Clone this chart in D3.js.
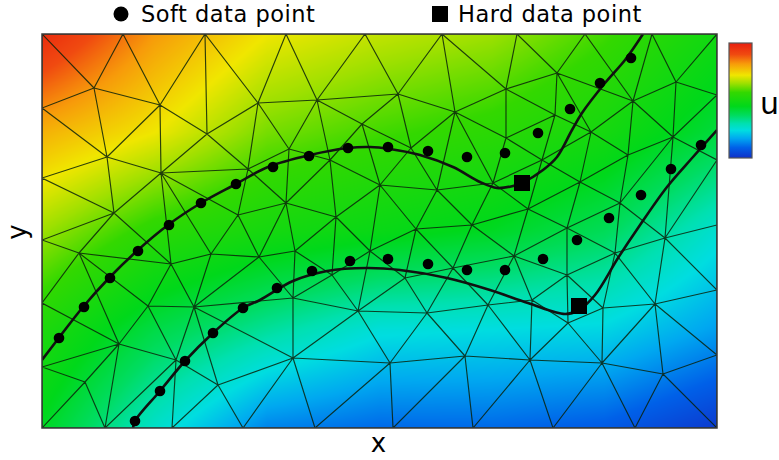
<!DOCTYPE html>
<html><head><meta charset="utf-8">
<script src="https://cdn.jsdelivr.net/npm/d3@7"></script>
<style>body{margin:0;background:#fff} svg{display:block}</style>
</head><body>
<svg id="chart" width="779" height="460"></svg>
<script>
// ---- data (domain units: x 0..675, y 0..394) ----
const meshBoundaryTop = [0,81,163,244,323,400,475,543,610,675];
const meshBoundaryBottom = [0,63,130,201,273,351,431,511,593,675];
const meshBoundaryLeft = [320,250,188,125,61];
const meshBoundaryRight = [333,268,203,138,73];
const meshInterior = [
 [52,340],[118,323],[165,294],[216,325],[65,271],[119,255],[206,259],[72,215],[196,213],
 [275,328],[356,334],[413,316],[320,304],[247,279],[288,268],[369,280],[338,243],[395,238],
 [244,225],[294,211],[374,199],[430,203],
 [515,355],[464,339],[591,327],[634,346],[513,313],[464,290],[549,296],[586,273],[631,291],
 [500,268],[451,245],[538,246],[486,219],[578,225],[623,190],[525,200],[573,175],[472,172],
 [525,153],[490,128],[446,123],[526,105],[561,120],[613,124],[488,68],[560,65],[621,54],
 [37,175],[129,164],[169,174],[217,171],[106,122],[152,121],[77,84],[43,46],[134,68],[176,43],
 [253,177],[328,177],[290,153],[363,150],[411,160],[251,130],[316,117],[385,115],[251,70],[348,65],[423,72]
];
const upperCurve = [
 [0,68],[16,89],[41,121],[68,151],[96,178],[126,203],[159,225],[194,244],[226,261],[268,273],
 [306,280],[328,281],[348,279],[378,273],[411,261],[438,246],[455,240],[471,242],[480,245],
 [501,258],[515,271],[530,298],[540,315],[563,345],[583,368],[601,394]
];
const lowerCurve = [
 [91,0],[93,7],[118,37],[143,67],[171,95],[201,120],[218,128],[251,147],[285,157],[325,160],
 [358,158],[405,150],[448,138],[486,125],[523,114],[537,118],[553,133],[576,170],[596,200],
 [625,241],[651,271],[675,298]
];
const softPoints = [
 [17,90],[42,121],[68,150],[96,177],[127,203],[159,225],[194,244],[231,261],[267,272],[306,280],
 [346,281],[386,277],[425,271],[463,275],[496,295],[528,319],[558,345],[589,370],
 [93,7],[118,37],[143,67],[171,95],[201,120],[235,140],[270,157],[308,167],[346,169],[386,164],
 [425,158],[463,158],[501,169],[535,188],[567,210],[599,233],[629,259],[659,283]
];
const hardPoints = [[480,245],[537,122]];
// field u sampled on a coarse grid (rows bottom -> top)
const fieldX = [0,112.5,225,337.5,450,562.5,675];
const fieldY = [0,98.5,197,295.5,394];
const fieldU = [
 [0.44,0.27,0.13,0.10,0.10,0.08,0.02],
 [0.52,0.40,0.32,0.25,0.24,0.23,0.16],
 [0.65,0.55,0.50,0.47,0.44,0.38,0.26],
 [0.79,0.72,0.62,0.58,0.55,0.50,0.41],
 [0.97,0.82,0.72,0.68,0.65,0.58,0.49]
];
const colorStops = [0,0.09,0.17,0.24,0.30,0.37,0.45,0.57,0.65,0.72,0.82,0.90,1];
const colorValues = ["#1030c8","#0060e8","#00a8f0","#00dde0","#00e0b0","#00dc60","#00d81a","#33d800","#9fe000","#f0e600","#f79a0a","#f04a10","#e81e0e"];
const legendLabels = ["Soft data point","Hard data point"];
const xLabel = "x", yLabel = "y", uLabel = "u";

// ---- scales ----
const W = 779, H = 460;
const plot = {l:42, r:717, t:34, b:428};
const x = d3.scaleLinear().domain([0,675]).range([plot.l, plot.r]);
const y = d3.scaleLinear().domain([0,394]).range([plot.b, plot.t]);
const color = d3.scaleLinear().domain(colorStops).range(colorValues).clamp(true);

const svg = d3.select("#chart");

// ---- field raster ----
function fieldAt(xd, yd) {
  let i = Math.min(Math.max(d3.bisectRight(fieldX, xd) - 1, 0), fieldX.length - 2);
  let j = Math.min(Math.max(d3.bisectRight(fieldY, yd) - 1, 0), fieldY.length - 2);
  const tx = Math.max(0, Math.min(1, (xd - fieldX[i]) / (fieldX[i+1] - fieldX[i])));
  const ty = Math.max(0, Math.min(1, (yd - fieldY[j]) / (fieldY[j+1] - fieldY[j])));
  const a = fieldU[j][i], b = fieldU[j][i+1], c = fieldU[j+1][i], d = fieldU[j+1][i+1];
  return (a*(1-tx) + b*tx)*(1-ty) + (c*(1-tx) + d*tx)*ty;
}
const pw = plot.r - plot.l, ph = plot.b - plot.t;
const cv = document.createElement("canvas");
cv.width = pw; cv.height = ph;
const ctx = cv.getContext("2d");
const img = ctx.createImageData(pw, ph);
for (let j = 0; j < ph; j++) {
  const yd = y.invert(plot.t + j + 0.5);
  for (let i = 0; i < pw; i++) {
    const xd = x.invert(plot.l + i + 0.5);
    const c = d3.rgb(color(fieldAt(xd, yd)));
    const k = (j*pw + i)*4;
    img.data[k] = c.r; img.data[k+1] = c.g; img.data[k+2] = c.b; img.data[k+3] = 255;
  }
}
ctx.putImageData(img, 0, 0);
svg.append("image").attr("x", plot.l).attr("y", plot.t).attr("width", pw).attr("height", ph)
  .attr("href", cv.toDataURL());

// ---- mesh ----
const nodes = [
  ...meshBoundaryTop.map(v => [v, 394]),
  ...meshBoundaryBottom.map(v => [v, 0]),
  ...meshBoundaryLeft.map(v => [0, v]),
  ...meshBoundaryRight.map(v => [675, v]),
  ...meshInterior
];
svg.append("clipPath").attr("id","clip").append("rect")
  .attr("x", plot.l).attr("y", plot.t).attr("width", pw).attr("height", ph);
const delaunay = d3.Delaunay.from(nodes, d => x(d[0]), d => y(d[1]));
svg.append("path").attr("clip-path","url(#clip)")
  .attr("d", delaunay.render())
  .attr("fill","none").attr("stroke","#0a220a").attr("stroke-opacity",0.85).attr("stroke-width",1.15);

// ---- curves ----
const line = d3.line().x(d => x(d[0])).y(d => y(d[1])).curve(d3.curveCatmullRom.alpha(0.5));
svg.append("g").attr("clip-path","url(#clip)").selectAll("path.curve").data([upperCurve, lowerCurve]).join("path")
  .attr("class","curve").attr("d", line).attr("fill","none").attr("stroke","#111").attr("stroke-width",2.6);

// ---- data points ----
svg.append("g").selectAll("circle").data(softPoints).join("circle")
  .attr("cx", d => x(d[0])).attr("cy", d => y(d[1])).attr("r", 5.3).attr("fill","#000");
svg.append("g").selectAll("rect").data(hardPoints).join("rect")
  .attr("x", d => x(d[0]) - 8).attr("y", d => y(d[1]) - 8).attr("width",16).attr("height",16).attr("fill","#000");

// ---- frame ----
svg.append("rect").attr("x", plot.l).attr("y", plot.t).attr("width", pw).attr("height", ph)
  .attr("fill","none").attr("stroke","#3a3a3a").attr("stroke-width",1.5);

// ---- colorbar ----
const grad = svg.append("defs").append("linearGradient").attr("id","cbar")
  .attr("x1",0).attr("y1",1).attr("x2",0).attr("y2",0);
grad.selectAll("stop").data(colorStops).join("stop")
  .attr("offset", d => d).attr("stop-color", (d,i) => colorValues[i]);
const cb = {x:729, y:43, w:23, h:115};
svg.append("rect").attr("x",cb.x).attr("y",cb.y).attr("width",cb.w).attr("height",cb.h)
  .attr("fill","url(#cbar)").attr("stroke","#555").attr("stroke-width",1.2);
svg.append("text").attr("x",760).attr("y",114).text(uLabel)
  .attr("font-family","DejaVu Sans, sans-serif").attr("font-size",30).attr("fill","#000");

// ---- axis labels ----
svg.append("text").attr("x",(plot.l+plot.r)/2 - 1).attr("y",452).attr("text-anchor","middle").text(xLabel)
  .attr("font-family","DejaVu Sans, sans-serif").attr("font-size",26).attr("fill","#000");
svg.append("text").attr("transform","translate(26,232) rotate(-90)").attr("text-anchor","middle").text(yLabel)
  .attr("font-family","DejaVu Sans, sans-serif").attr("font-size",26).attr("fill","#000");

// ---- legend ----
const lg = svg.append("g").attr("font-family","DejaVu Sans, sans-serif").attr("font-size",22.5)
  .attr("letter-spacing",0.5).attr("fill","#000");
lg.append("circle").attr("cx",121).attr("cy",14).attr("r",7.5);
lg.append("text").attr("x",141).attr("y",22).text(legendLabels[0]);
lg.append("rect").attr("x",432).attr("y",6).attr("width",16).attr("height",16);
lg.append("text").attr("x",458).attr("y",22).text(legendLabels[1]);
</script>
</body></html>
